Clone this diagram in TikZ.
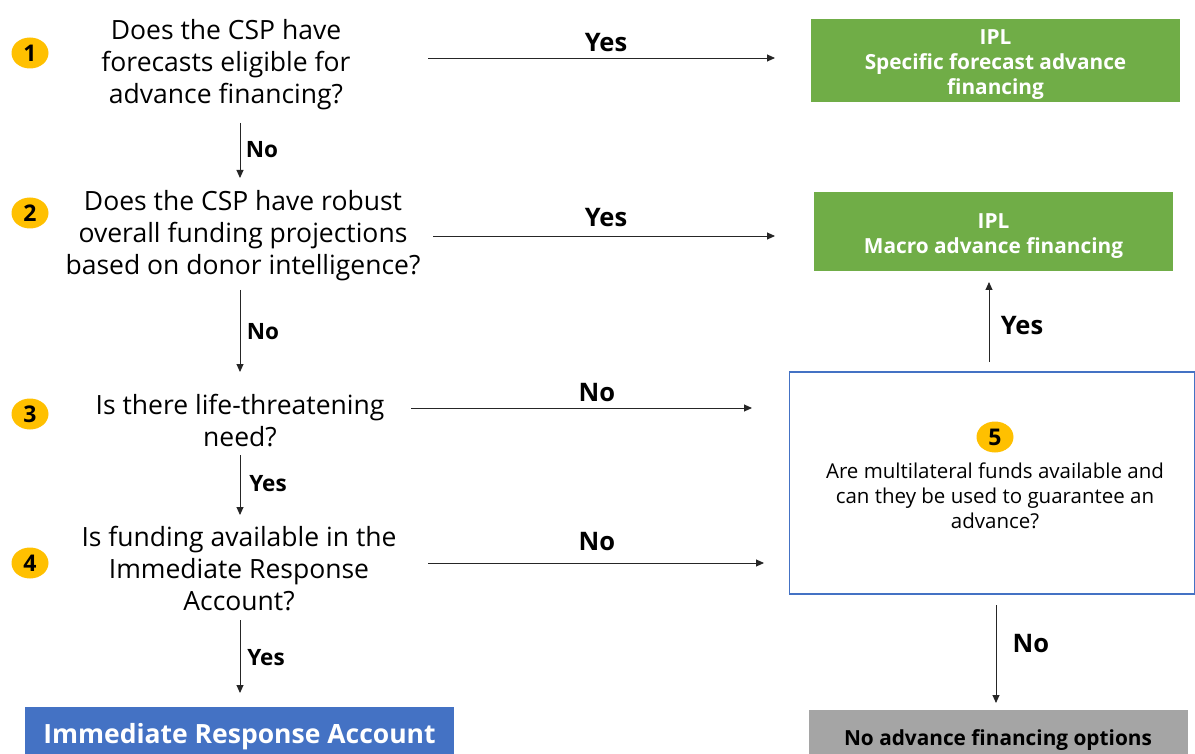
\documentclass[tikz,border=0pt]{standalone}
\usepackage{fontspec}
\setmainfont{Open Sans}
\usetikzlibrary{arrows.meta,shapes.geometric}
\definecolor{gold}{HTML}{FFC000}
\definecolor{grn}{HTML}{70AD47}
\definecolor{blu}{HTML}{4472C4}
\definecolor{gry}{HTML}{A5A5A5}
\begin{document}
\begin{tikzpicture}[x=1pt,y=-1pt,
  num/.style={ellipse,fill=gold,minimum width=37pt,minimum height=31pt,inner sep=0pt,font=\fontsize{23}{23}\selectfont\bfseries},
  quest/.style={align=center,inner sep=0pt,font=\fontsize{26.5}{32}\selectfont},
  greenbox/.style={fill=grn,minimum height=50pt,inner sep=0pt},
  greentext/.style={text=white,align=center,inner sep=0pt,font=\fontsize{20.8}{25}\selectfont\bfseries},
  arr/.style={-{Triangle[length=8pt,width=7pt]},line width=0.9pt,draw=black!85},
  lbl/.style={inner sep=0pt,font=\fontsize{25.5}{25}\selectfont\bfseries},
  slbl/.style={inner sep=0pt,font=\fontsize{22.5}{22}\selectfont\bfseries}
]
\useasboundingbox (0,0) rectangle (1195,754);
% numbers
\node[num] (n1) at (30,53) {1};
\node[num] (n2) at (30,213) {2};
\node[num] (n3) at (30,414) {3};
\node[num] (n4) at (30,563) {4};
% questions
\node[quest] (q1) at (226,65) {Does the CSP have\\forecasts eligible for\\advance financing?};
\node[quest] (q2) at (243,236) {Does the CSP have robust\\overall funding projections\\based on donor intelligence?};
\node[quest] (q3) at (240,421) {Is there life-threatening\\need?};
\node[quest] (q4) at (239,569) {Is funding available in the\\Immediate Response\\Account?};
% right boxes
\node[greenbox,minimum width=369pt,minimum height=83pt] (ipl1) at (995.5,60.5) {};
\node[greentext] (ipl1t) at (995.5,65) {IPL\\Specific forecast advance\\financing};
\node[greenbox,minimum width=359pt,minimum height=79pt] (ipl2) at (993.5,231.5) {};
\node[greentext] (ipl2t) at (993.5,236) {IPL\\Macro advance financing};
\node[draw=blu,line width=1.3pt,minimum width=405pt,minimum height=222pt,inner sep=0pt] (b5) at (992,483) {};
\node[num] (n5) at (995,437) {5};
\node[align=center,inner sep=0pt,font=\fontsize{20.5}{25}\selectfont] (t5) at (995,496) {Are multilateral funds available and\\can they be used to guarantee an\\advance?};
\node[fill=blu,minimum width=429pt,minimum height=50pt,inner sep=0pt] (ira) at (239.5,732) {};
\node[text=white,inner sep=0pt,font=\fontsize{26.5}{26}\selectfont\bfseries] (irat) at (239.5,737) {Immediate Response Account};
\node[fill=gry,minimum width=379pt,minimum height=50pt,inner sep=0pt] (none) at (998.5,735) {};
\node[inner sep=0pt,font=\fontsize{20.8}{20}\selectfont\bfseries] (nonet) at (998,740) {No advance financing options};
% connector coordinates
\coordinate (a1s) at (428,58); \coordinate (a1e) at (775,58);
\coordinate (a2s) at (433,236); \coordinate (a2e) at (775,236);
\coordinate (a3s) at (411,408); \coordinate (a3e) at (752,408);
\coordinate (a4s) at (428,563); \coordinate (a4e) at (764,563);
\coordinate (v1s) at (240,123); \coordinate (v1e) at (240,178);
\coordinate (v2s) at (240,290); \coordinate (v2e) at (240,372);
\coordinate (v3s) at (240,455); \coordinate (v3e) at (240,515);
\coordinate (v4s) at (240,620); \coordinate (v4e) at (240,693);
\coordinate (u5s) at (989,362); \coordinate (u5e) at (989,282);
\coordinate (d5s) at (996,605); \coordinate (d5e) at (996,703);
% arrows
\draw[arr] (a1s) -- (a1e);
\draw[arr] (a2s) -- (a2e);
\draw[arr] (a3s) -- (a3e);
\draw[arr] (a4s) -- (a4e);
\draw[arr] (v1s) -- (v1e);
\draw[arr] (v2s) -- (v2e);
\draw[arr] (v3s) -- (v3e);
\draw[arr] (v4s) -- (v4e);
\draw[arr] (u5s) -- (u5e);
\draw[arr] (d5s) -- (d5e);
% labels
\node[lbl] (l1) at (606,43) {Yes};
\node[lbl] (l2) at (606,218) {Yes};
\node[lbl] (l3) at (597,393) {No};
\node[lbl] (l4) at (597,542) {No};
\node[slbl] (l5) at (262,150) {No};
\node[slbl] (l6) at (263,332) {No};
\node[slbl] (l7) at (268,484) {Yes};
\node[slbl] (l8) at (266,658) {Yes};
\node[lbl] (l9) at (1022,326) {Yes};
\node[lbl] (l10) at (1031,644) {No};
\end{tikzpicture}
\end{document}
